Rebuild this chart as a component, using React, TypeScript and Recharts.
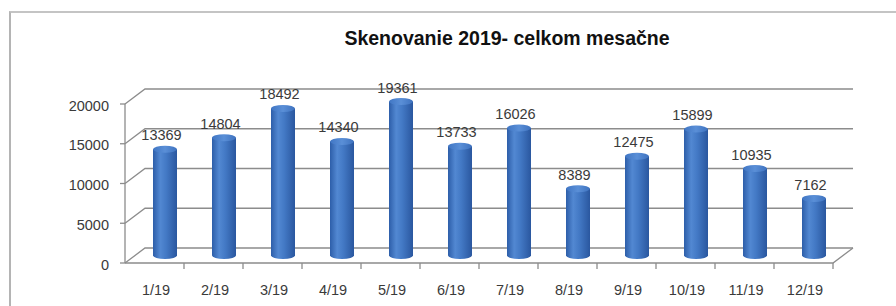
import React from 'react';
import { BarChart, Bar, XAxis, YAxis, CartesianGrid, LabelList, ReferenceLine } from 'recharts';

const months = ['1/19', '2/19', '3/19', '4/19', '5/19', '6/19', '7/19', '8/19', '9/19', '10/19', '11/19', '12/19'];
const scans = [13369, 14804, 18492, 14340, 19361, 13733, 16026, 8389, 12475, 15899, 10935, 7162];
const yTicks = [0, 5000, 10000, 15000, 20000];
const title = 'Skenovanie 2019- celkom mesačne';

const data = months.map((m, i) => ({ month: m, value: scans[i] }));

const W = 896;
const H = 306;
const PLOT_LEFT = 135;
const PLOT_RIGHT = 843;
const PLOT_TOP = 96.5;
const PLOT_BOTTOM = 255.5;
const X_AXIS_H = 30;
const DX = 10; // half depth offset
const DY = 7.5;
const BAND = (PLOT_RIGHT - PLOT_LEFT) / months.length;
const GRID = '#8c8c8c';
const TEXT = '#3a3a3a';
const FONT = '"Liberation Sans", Arial, sans-serif';

const Cylinder = (props: any) => {
  const { x, y, width, height } = props;
  if (height == null || width == null) return null;
  const cx = x + width / 2;
  const bw = 24;
  const rx = bw / 2;
  const ry = 3.5;
  const left = cx - rx;
  const top = y;
  const bottom = y + height;
  return (
    <g>
      <path
        d={`M${left},${top} L${left},${bottom} A${rx},${ry} 0 0 0 ${left + bw},${bottom} L${left + bw},${top} Z`}
        fill="url(#cylBody)"
      />
      <ellipse cx={cx} cy={top} rx={rx} ry={ry} fill="url(#cylTop)" />
    </g>
  );
};

const BarLabel = (props: any) => {
  const { x, y, width, value } = props;
  const cx = x + width / 2 - 3.5;
  return (
    <text x={cx} y={y - 9} textAnchor="middle" fontSize={14.5} fill={TEXT} fontFamily={FONT}>
      {value}
    </text>
  );
};

const XTick = (props: any) => {
  const { x, payload } = props;
  const fx = x - DX;
  const fy = PLOT_BOTTOM + DY;
  return (
    <g>
      <line x1={fx + BAND / 2} y1={fy} x2={fx + BAND / 2} y2={fy + 6} stroke={GRID} strokeWidth={1.3} />
      <text x={fx + 1.5} y={290} textAnchor="middle" dominantBaseline="central" fontSize={14.5} fill={TEXT} fontFamily={FONT}>
        {payload.value}
      </text>
    </g>
  );
};

const YTick = (props: any) => {
  const { y, payload } = props;
  const fx = PLOT_LEFT - DX;
  const fy = y + DY;
  return (
    <g>
      <line x1={fx - 5} y1={fy} x2={fx} y2={fy} stroke={GRID} strokeWidth={1.3} />
      <text x={109} y={fy + 1.5} textAnchor="end" dominantBaseline="central" fontSize={14.5} fill={TEXT} fontFamily={FONT}>
        {payload.value}
      </text>
    </g>
  );
};

const gridLine = (p: any) => {
  const { x1, x2, y1 } = p;
  return (
    <path
      key={p.key ?? `g-${y1}`}
      d={`M${x1 - DX},${y1 + DY} L${x1 + DX},${y1 - DY} L${x2 + DX},${y1 - DY}`}
      fill="none"
      stroke={GRID}
      strokeWidth={1.3}
    />
  );
};

const floorShape = (p: any) => {
  const { x1, x2, y1 } = p;
  return (
    <path
      d={`M${x1 - DX},${y1 + DY} L${x2 - DX},${y1 + DY} L${x2 + DX},${y1 - DY}`}
      fill="none"
      stroke={GRID}
      strokeWidth={1.3}
    />
  );
};

export default function App() {
  return (
    <div style={{ position: 'absolute', left: 0, top: 0, width: W, height: H, background: '#fff', overflow: 'hidden' }}>
      <div
        style={{
          position: 'absolute',
          left: 9,
          top: 11,
          width: W,
          height: H,
          borderLeft: '2px solid #b4b4b4',
          borderTop: '2px solid #c4c4c4',
        }}
      />
      <div
        style={{
          position: 'absolute',
          left: 0,
          top: 27,
          width: 1014,
          textAlign: 'center',
          fontFamily: FONT,
          fontWeight: 'bold',
          fontSize: 19.5,
          color: '#111',
          lineHeight: '22px',
        }}
      >
        {title}
      </div>
      <div style={{ position: 'absolute', left: 0, top: 0 }}>
        <BarChart
          width={W}
          height={H}
          data={data}
          margin={{ top: PLOT_TOP, right: W - PLOT_RIGHT, bottom: H - PLOT_BOTTOM - X_AXIS_H, left: 0 }}
          barCategoryGap={0}
        >
          <defs>
            <linearGradient id="cylBody" x1="0" y1="0" x2="1" y2="0">
              <stop offset="0%" stopColor="#2d5ea9" />
              <stop offset="30%" stopColor="#5288d2" />
              <stop offset="55%" stopColor="#4379c5" />
              <stop offset="100%" stopColor="#2a579f" />
            </linearGradient>
            <linearGradient id="cylTop" x1="0" y1="0" x2="1" y2="0">
              <stop offset="0%" stopColor="#4076c4" />
              <stop offset="50%" stopColor="#5a8fd7" />
              <stop offset="100%" stopColor="#3e72bf" />
            </linearGradient>
          </defs>
          <CartesianGrid vertical={false} horizontal={gridLine} />
          <ReferenceLine y={0} shape={floorShape} ifOverflow="visible" />
          <XAxis
            dataKey="month"
            height={X_AXIS_H}
            axisLine={false}
            tickLine={false}
            tick={<XTick />}
            interval={0}
          />
          <YAxis
            width={PLOT_LEFT}
            domain={[0, 20000]}
            ticks={yTicks}
            interval={0}
            tickLine={false}
            axisLine={{ stroke: GRID, strokeWidth: 1.3, transform: `translate(${-DX},${DY})` }}
            tick={<YTick />}
          />
          <Bar dataKey="value" barSize={24} shape={<Cylinder />} isAnimationActive={false}>
            <LabelList dataKey="value" content={<BarLabel />} />
          </Bar>
        </BarChart>
      </div>
    </div>
  );
}
